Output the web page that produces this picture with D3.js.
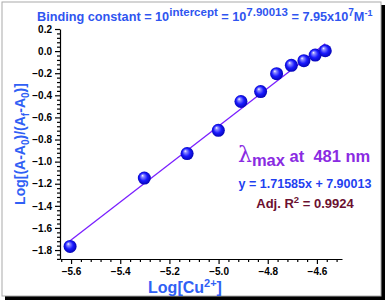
<!DOCTYPE html>
<html>
<head>
<meta charset="utf-8">
<script src="https://cdn.jsdelivr.net/npm/d3@7"></script>
<style>
  body { margin: 0; background: #fff; }
  svg { display: block; font-family: "Liberation Sans", Arial, sans-serif; font-weight: bold; }
</style>
</head>
<body>
<svg id="chart" width="387" height="302"></svg>
<script>
// data
const logCu = [-5.604, -5.302, -5.128, -5.001, -4.909, -4.829, -4.764, -4.704, -4.653, -4.607, -4.566];
const logRatio = [-1.767, -1.149, -0.927, -0.717, -0.456, -0.366, -0.204, -0.129, -0.087, -0.036, 0.003];
const xTicks = [-5.6, -5.4, -5.2, -5.0, -4.8, -4.6];
const yTicks = [0.2, 0.0, -0.2, -0.4, -0.6, -0.8, -1.0, -1.2, -1.4, -1.6, -1.8];
const slope = 1.71585, intercept = 7.90013;

const svg = d3.select("#chart");

// frame with shadow
svg.append("rect").attr("x", 5).attr("y", 5).attr("width", 380).attr("height", 295).attr("fill", "#000");
svg.append("rect").attr("x", 2).attr("y", 2).attr("width", 379).attr("height", 294)
   .attr("fill", "#fff").attr("stroke", "#aaa").attr("stroke-width", 1);

// sphere gradient
const grad = svg.append("defs").append("radialGradient").attr("id", "ball")
  .attr("cx", "50%").attr("cy", "50%").attr("r", "55%").attr("fx", "35%").attr("fy", "30%");
grad.append("stop").attr("offset", "0%").attr("stop-color", "#ffffff");
grad.append("stop").attr("offset", "18%").attr("stop-color", "#8f8fff");
grad.append("stop").attr("offset", "55%").attr("stop-color", "#1a1aff");
grad.append("stop").attr("offset", "100%").attr("stop-color", "#0000a8");

const x = d3.scaleLinear().domain([-5.645, -4.498]).range([60, 342]);
const y = d3.scaleLinear().domain([-1.881, 0.2]).range([259, 29]);

// minor tick values (every 0.04)
const xMinor = d3.range(-5.64, -4.5, 0.04).filter(v => !xTicks.some(t => Math.abs(t - v) < 1e-6));
const yMinor = d3.range(-1.88, 0.2, 0.04).filter(v => !yTicks.some(t => Math.abs(t - v) < 1e-6));

// x axis
const gx = svg.append("g").attr("transform", "translate(0,259)");
gx.call(d3.axisBottom(x).tickValues(xTicks).tickSize(5).tickSizeOuter(0).tickFormat(d3.format(".1f")));
gx.append("g").call(d3.axisBottom(x).tickValues(xMinor).tickSize(3).tickFormat(""))
  .select(".domain").remove();
gx.selectAll("text").attr("font-size", 10).attr("font-weight", "bold").attr("fill", "#000")
  .attr("font-family", "Liberation Sans, Arial, sans-serif").attr("dy", "0.8em");
gx.selectAll("line, path").attr("stroke", "#000").attr("stroke-width", 1.2);

// y axis
const gy = svg.append("g").attr("transform", "translate(60,0)");
gy.call(d3.axisLeft(y).tickValues(yTicks).tickSize(5).tickSizeOuter(0).tickFormat(d3.format(".1f")));
gy.append("g").call(d3.axisLeft(y).tickValues(yMinor).tickSize(3).tickFormat(""))
  .select(".domain").remove();
gy.selectAll("text").attr("font-size", 10).attr("font-weight", "bold").attr("fill", "#000")
  .attr("font-family", "Liberation Sans, Arial, sans-serif");
gy.selectAll("line, path").attr("stroke", "#000").attr("stroke-width", 1.2);

// fit line
const [x0, x1] = d3.extent(logCu);
svg.append("line")
   .attr("x1", x(x0)).attr("y1", y(slope * x0 + intercept))
   .attr("x2", x(x1)).attr("y2", y(slope * x1 + intercept))
   .attr("stroke", "#7a1fff").attr("stroke-width", 1.3);

// points
svg.selectAll("circle.pt").data(logCu).join("circle").attr("class", "pt")
   .attr("cx", d => x(d)).attr("cy", (d, i) => y(logRatio[i]))
   .attr("r", 6.5).attr("fill", "url(#ball)");

// title
const title = svg.append("text").attr("x", 37).attr("y", 21).attr("fill", "#2f55f0").attr("font-size", 12.7);
title.append("tspan").text("Binding constant = 10");
title.append("tspan").attr("dy", -5).attr("font-size", 11.5).text("intercept");
title.append("tspan").attr("dy", 5).text(" = 10");
title.append("tspan").attr("dy", -5).attr("font-size", 11.5).text("7.90013");
title.append("tspan").attr("dy", 5).text(" = 7.95x10");
title.append("tspan").attr("dy", -5).attr("font-size", 10).text("7");
title.append("tspan").attr("dy", 5).text("M");
title.append("tspan").attr("dy", -5).attr("font-size", 9).text("-1");

// y label
const yl = svg.append("text").attr("transform", "translate(25,144) rotate(-90)")
  .attr("text-anchor", "middle").attr("fill", "#3060f5").attr("font-size", 14);
yl.append("tspan").text("Log[(A-A");
yl.append("tspan").attr("dy", 4).attr("font-size", 10).text("0");
yl.append("tspan").attr("dy", -4).text(")/(A");
yl.append("tspan").attr("dy", 4).attr("font-size", 10).text("f");
yl.append("tspan").attr("dy", -4).text("-A");
yl.append("tspan").attr("dy", 4).attr("font-size", 10).text("0");
yl.append("tspan").attr("dy", -4).text(")]");

// x label
const xl = svg.append("text").attr("x", 185).attr("y", 293)
  .attr("text-anchor", "middle").attr("fill", "#3060f5").attr("font-size", 16);
xl.append("tspan").text("Log[Cu");
xl.append("tspan").attr("dy", -6).attr("font-size", 11).text("2+");
xl.append("tspan").attr("dy", 6).text("]");

// annotations
const lm = svg.append("text").attr("x", 238).attr("y", 162).attr("fill", "#8a2be2")
  .attr("font-size", 16.5).style("white-space", "pre");
lm.append("tspan").attr("font-size", 22).attr("font-weight", "normal")
  .attr("font-family", "DejaVu Serif, serif").text("λ");
lm.append("tspan").attr("dy", 4).text("max");
lm.append("tspan").attr("dy", -4).text(" at  481 nm");

svg.append("text").attr("x", 305).attr("y", 188).attr("text-anchor", "middle")
   .attr("fill", "#1f3ff0").attr("font-size", 12.5).text("y = 1.71585x + 7.90013");

const r2 = svg.append("text").attr("x", 305).attr("y", 208).attr("text-anchor", "middle")
   .attr("fill", "#6b1030").attr("font-size", 13);
r2.append("tspan").text("Adj. R");
r2.append("tspan").attr("dy", -5).attr("font-size", 9.5).text("2");
r2.append("tspan").attr("dy", 5).text(" = 0.9924");
</script>
</body>
</html>
